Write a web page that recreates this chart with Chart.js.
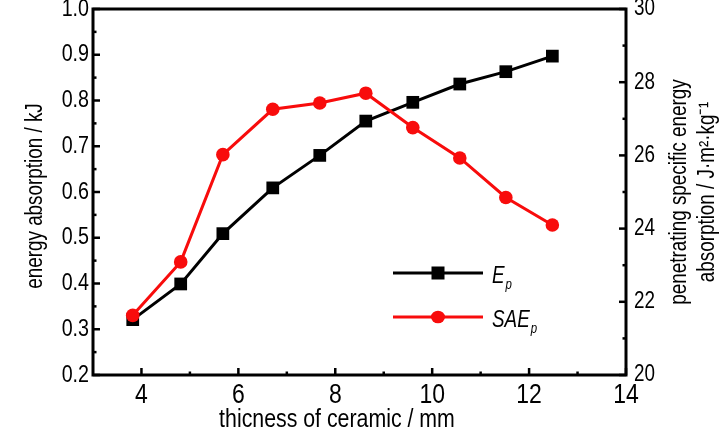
<!DOCTYPE html>
<html><head><meta charset="utf-8">
<script src="https://cdn.jsdelivr.net/npm/chart.js@4.4.1/dist/chart.umd.min.js"></script>
<style>html,body{margin:0;padding:0;background:#fff;}canvas{display:block;}</style>
</head><body>
<canvas id="c" width="728" height="433"></canvas>
<script>
// ---- data ----
const thickness = [3.82, 4.81, 5.68, 6.71, 7.68, 8.63, 9.60, 10.57, 11.52, 12.48];
const energyAbsorption = [0.321, 0.399, 0.509, 0.609, 0.680, 0.755, 0.796, 0.836, 0.863, 0.897];
const specificEnergy = [21.63, 23.09, 26.02, 27.26, 27.43, 27.70, 26.76, 25.93, 24.85, 24.10];
const xTicks = [4, 6, 8, 10, 12, 14];
const xMinorTicks = [5, 7, 9, 11, 13];
const yLeftTicks = [0.2, 0.3, 0.4, 0.5, 0.6, 0.7, 0.8, 0.9, 1.0];
const yLeftMinorTicks = [0.25, 0.35, 0.45, 0.55, 0.65, 0.75, 0.85, 0.95];
const yRightTicks = [20, 22, 24, 26, 28, 30];
const yRightMinorTicks = [21, 23, 25, 27, 29];
const seriesMain = ['E', 'SAE'];
const seriesSub = ['p', 'p'];
const xTitle = 'thicness of ceramic / mm';
const yLeftTitle = 'energy absorption / kJ';
const yRightTitle = ['penetrating specific energy', 'absorption / J\u00B7m\u00B2\u00B7kg\u207B\u00B9'];

const FONT = "'Liberation Sans',Arial,sans-serif";
const RED = '#f80c0c';
const NARROW = 0.82; // the reference uses a condensed face; squeeze text horizontally

// draw every text condensed (Arial-Narrow look) while keeping it real text
const origFillText = CanvasRenderingContext2D.prototype.fillText;
CanvasRenderingContext2D.prototype.fillText = function (t, x, y, maxW) {
  this.save();
  this.translate(x, y);
  this.scale(NARROW, 1);
  if (maxW === undefined) origFillText.call(this, t, 0, 0);
  else origFillText.call(this, t, 0, 0, maxW / NARROW);
  this.restore();
};

const noPad = s => { s.paddingTop = 0; s.paddingBottom = 0; s.paddingLeft = 0; s.paddingRight = 0; };

const framePlugin = {
  id: 'frame',
  afterDraw(chart) {
    const { ctx, chartArea: a, scales } = chart;
    ctx.save();
    ctx.strokeStyle = '#000';
    ctx.lineWidth = 3;
    ctx.strokeRect(a.left, a.top, a.right - a.left, a.bottom - a.top);
    ctx.lineWidth = 2.5;
    const seg = (x1, y1, x2, y2) => { ctx.beginPath(); ctx.moveTo(x1, y1); ctx.lineTo(x2, y2); ctx.stroke(); };
    xTicks.forEach(v => { const x = scales.x.getPixelForValue(v); seg(x, a.bottom, x, a.bottom - 7); });
    xMinorTicks.forEach(v => { const x = scales.x.getPixelForValue(v); seg(x, a.bottom, x, a.bottom - 3.5); });
    yLeftTicks.forEach(v => { const y = scales.y.getPixelForValue(v); seg(a.left, y, a.left + 7, y); });
    yLeftMinorTicks.forEach(v => { const y = scales.y.getPixelForValue(v); seg(a.left, y, a.left + 3.5, y); });
    yRightTicks.forEach(v => { const y = scales.y1.getPixelForValue(v); seg(a.right, y, a.right - 7, y); });
    yRightMinorTicks.forEach(v => { const y = scales.y1.getPixelForValue(v); seg(a.right, y, a.right - 3.5, y); });

    // axis titles
    ctx.fillStyle = '#000';
    ctx.textAlign = 'center';
    ctx.textBaseline = 'alphabetic';
    ctx.font = '26px ' + FONT;
    ctx.fillText(xTitle, 337, 427);

    ctx.save();
    ctx.translate(42, 196);
    ctx.rotate(-Math.PI / 2);
    ctx.font = '23px ' + FONT;
    ctx.fillText(yLeftTitle, 0, 0);
    ctx.restore();

    ctx.save();
    ctx.translate(686, 192);
    ctx.rotate(-Math.PI / 2);
    ctx.font = '23px ' + FONT;
    ctx.fillText(yRightTitle[0], 0, 0);
    ctx.fillText(yRightTitle[1], 0, 28);
    ctx.restore();

    // legend
    const rows = [
      { y: 273, color: '#000', style: 'rect' },
      { y: 317, color: RED, style: 'circle' }
    ];
    rows.forEach((r, i) => {
      ctx.strokeStyle = r.color;
      ctx.fillStyle = r.color;
      ctx.lineWidth = 3;
      seg(393, r.y, 483, r.y);
      if (r.style === 'rect') {
        ctx.fillRect(438 - 6.5, r.y - 6.5, 13, 13);
      } else {
        ctx.beginPath(); ctx.ellipse(438, r.y, 7, 6.3, 0, 0, Math.PI * 2); ctx.fill();
      }
      ctx.fillStyle = '#000';
      ctx.textAlign = 'left';
      ctx.font = 'italic 23px ' + FONT;
      ctx.fillText(seriesMain[i], 492, r.y + 10);
      const w = ctx.measureText(seriesMain[i]).width * NARROW;
      ctx.font = 'italic 14px ' + FONT;
      ctx.fillText(seriesSub[i], 492 + w + 1, r.y + 16);
    });
    ctx.restore();
  }
};

new Chart(document.getElementById('c'), {
  type: 'line',
  data: {
    datasets: [
      {
        label: 'SAEp',
        data: thickness.map((x, i) => ({ x, y: specificEnergy[i] })),
        yAxisID: 'y1',
        borderColor: RED,
        backgroundColor: RED,
        borderWidth: 3,
        pointStyle: 'circle',
        pointRadius: 6.8,
        pointBorderWidth: 0,
        tension: 0,
        order: 0
      },
      {
        label: 'Ep',
        data: thickness.map((x, i) => ({ x, y: energyAbsorption[i] })),
        yAxisID: 'y',
        borderColor: '#000',
        backgroundColor: '#000',
        borderWidth: 3,
        pointStyle: 'rect',
        pointRadius: 9,
        pointBorderWidth: 0,
        tension: 0,
        order: 1
      }
    ]
  },
  options: {
    responsive: false,
    animation: false,
    devicePixelRatio: 1,
    layout: { padding: { top: 7, left: 0, right: 0, bottom: 0 } },
    plugins: { legend: { display: false }, tooltip: { enabled: false } },
    scales: {
      x: {
        type: 'linear', min: 3, max: 14,
        grid: { display: false, drawTicks: false }, border: { display: false },
        afterBuildTicks: s => { s.ticks = xTicks.map(v => ({ value: v })); },
        afterFit: s => { s.height = 58; noPad(s); },
        ticks: { color: '#000', font: { family: FONT, size: 28 }, padding: 3, maxRotation: 0, autoSkip: false,
          callback: v => String(v) }
      },
      y: {
        type: 'linear', position: 'left', min: 0.2, max: 1.0,
        grid: { display: false, drawTicks: false }, border: { display: false },
        afterBuildTicks: s => { s.ticks = yLeftTicks.map(v => ({ value: v })); },
        afterFit: s => { s.width = 93; noPad(s); },
        ticks: { color: '#000', font: { family: FONT, size: 24 }, padding: 4, autoSkip: false,
          callback: v => Number(v).toFixed(1) }
      },
      y1: {
        type: 'linear', position: 'right', min: 20, max: 30,
        grid: { display: false, drawTicks: false }, border: { display: false },
        afterBuildTicks: s => { s.ticks = yRightTicks.map(v => ({ value: v })); },
        afterFit: s => { s.width = 102; noPad(s); },
        ticks: { color: '#000', font: { family: FONT, size: 23 }, padding: 8, autoSkip: false,
          callback: v => String(v) }
      }
    }
  },
  plugins: [framePlugin]
});
</script>
</body></html>
